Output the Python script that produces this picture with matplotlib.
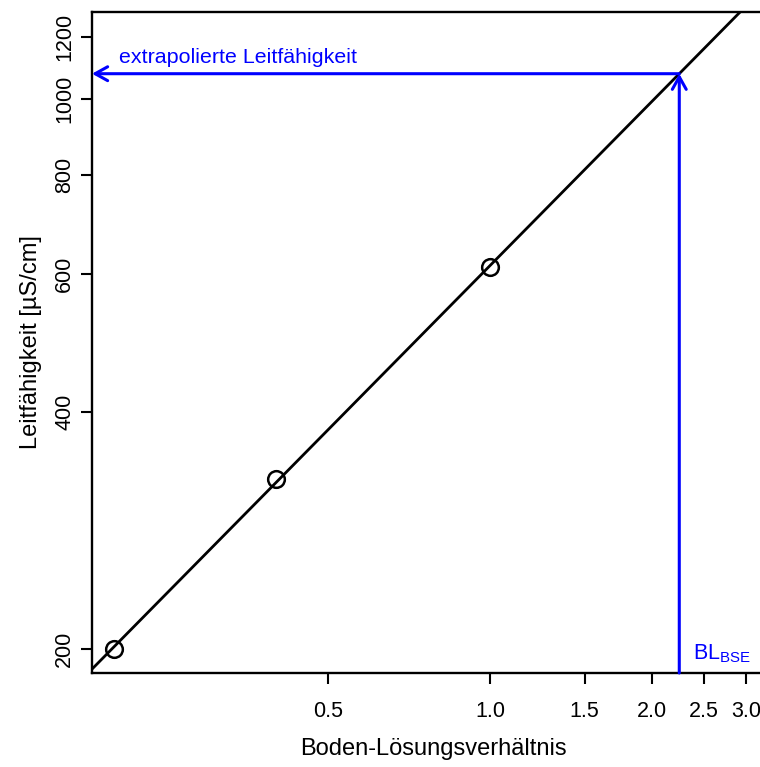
import matplotlib.pyplot as plt
import numpy as np

plt.rcParams['font.family'] = ['Liberation Sans', 'DejaVu Sans']

# Messwerte: Boden-Lösungsverhältnis und Leitfähigkeit
verhaeltnis = np.array([0.2, 0.4, 1.0])
leitfaehigkeit = np.array([200, 329, 611])
bl_bse = 2.25

x_ticks = [0.5, 1.0, 1.5, 2.0, 2.5, 3.0]
x_ticklabels = ['0.5', '1.0', '1.5', '2.0', '2.5', '3.0']
y_ticks = [200, 400, 600, 800, 1000, 1200]

# log-log Regression
b, a = np.polyfit(np.log10(verhaeltnis), np.log10(leitfaehigkeit), 1)
lf_extra = 10 ** (a + b * np.log10(bl_bse))

W, H = 760, 767
fig = plt.figure(figsize=(W / 100, H / 100), dpi=100)
ax = fig.add_axes([92 / W, 1 - 673 / H, (775 - 92) / W, (673 - 12) / H])
ax.set_xscale('log')
ax.set_yscale('log')
xlim = (0.182, 3.39)
ylim = (186.4, 1290)
ax.set_xlim(xlim)
ax.set_ylim(ylim)

xx = np.array([0.1, 5.0])
ax.plot(xx, 10 ** (a + b * np.log10(xx)), color='black', lw=2)
ax.plot(verhaeltnis, leitfaehigkeit, 'o', mfc='none', mec='black', ms=12, mew=1.8)

# Extrapolation
arrow = dict(arrowstyle='->,head_length=0.9,head_width=0.5', color='blue', lw=2.2,
             shrinkA=0, shrinkB=0)
ax.annotate('', xy=(bl_bse, lf_extra), xytext=(bl_bse, ylim[0]), arrowprops=arrow)
ax.annotate('', xy=(xlim[0], lf_extra), xytext=(bl_bse, lf_extra), arrowprops=arrow)
ax.text(0.204, lf_extra * 1.033, 'extrapolierte Leitfähigkeit', color='blue',
        fontsize=15.4, ha='left', va='baseline')
ax.text(bl_bse * 1.06, ylim[0] * 1.042, r'BL$_\mathregular{BSE}$', color='blue',
        fontsize=15.5, ha='left', va='baseline')

ax.set_xticks(x_ticks)
ax.set_xticklabels(x_ticklabels)
ax.xaxis.set_minor_locator(plt.NullLocator())
ax.set_yticks(y_ticks)
ax.set_yticklabels([str(v) for v in y_ticks], rotation=90, va='center')
ax.yaxis.set_minor_locator(plt.NullLocator())
ax.tick_params(labelsize=15.5, length=8, width=1.5)
ax.tick_params(axis='x', pad=12)
ax.tick_params(axis='y', pad=4)

for s in ax.spines.values():
    s.set_linewidth(1.7)

ax.set_xlabel('Boden-Lösungsverhältnis', fontsize=17, labelpad=12)
ax.set_ylabel('Leitfähigkeit [µS/cm]', fontsize=17, labelpad=9)

fig.savefig('out.png', dpi=100)
